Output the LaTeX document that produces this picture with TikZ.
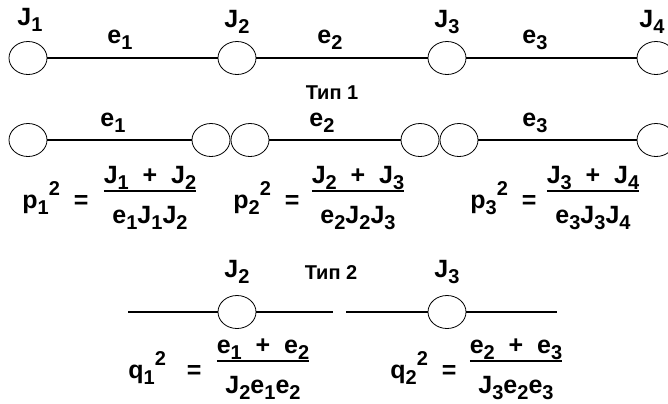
\documentclass[tikz,border=0pt]{standalone}
\usepackage{fontspec}
\setmainfont{Liberation Sans}
\usetikzlibrary{shapes.geometric}
\newcommand\idx[1]{\raisebox{-0.45ex}{\fontsize{10}{10}\selectfont #1}}
\newcommand\pw[1]{\raisebox{1.0ex}{\fontsize{10}{10}\selectfont #1}}
\newcommand\frc[2]{\setlength\arrayrulewidth{0.9pt}%
  \begin{tabular}{@{}c@{}}#1\\[-1pt]\hline\rule{0pt}{2.4ex}#2\end{tabular}}

\begin{document}
\begin{tikzpicture}[x=0.5pt,y=-0.5pt,
  font=\bfseries\fontsize{12.5}{14}\selectfont,
  disk/.style={ellipse,draw,thin,minimum width=19pt,minimum height=16.5pt,inner sep=0pt},
  shaft/.style={line width=1pt},
  lbl/.style={inner sep=0pt},
  lhs/.style={inner sep=0pt,anchor=west},
  ratio/.style={inner sep=0pt}
]
  \useasboundingbox (0,0) rectangle (668,403);

  % Тип 1, whole shaft
  \node[disk] (a1) at (28,58) {};
  \node[disk] (a2) at (237,58) {};
  \node[disk] (a3) at (447,58) {};
  \node[disk] (a4) at (656,58) {};
  \draw[shaft] (a1) -- (a2);
  \draw[shaft] (a2) -- (a3);
  \draw[shaft] (a3) -- (a4);
  \node[lbl] (ja1) at (30,20) {J\idx1};
  \node[lbl] (ja2) at (237,22) {J\idx2};
  \node[lbl] (ja3) at (447,22) {J\idx3};
  \node[lbl] (ja4) at (652,22) {J\idx4};
  \node[lbl] (ea1) at (120,40) {e\idx1};
  \node[lbl] (ea2) at (330,40) {e\idx2};
  \node[lbl] (ea3) at (535,40) {e\idx3};
  \node[lbl,font=\bfseries\fontsize{10}{12}\selectfont] (type1) at (332,93) {Тип 1};

  % Тип 1, split shaft
  \node[disk] (b1) at (28,140) {};
  \node[disk] (b2) at (211,140) {};
  \node[disk] (b3) at (250,140) {};
  \node[disk] (b4) at (420,140) {};
  \node[disk] (b5) at (459,140) {};
  \node[disk] (b6) at (656,140) {};
  \draw[shaft] (b1) -- (b2);
  \draw[shaft] (b3) -- (b4);
  \draw[shaft] (b5) -- (b6);
  \node[lbl] (eb1) at (113,123) {e\idx1};
  \node[lbl] (eb2) at (322,123) {e\idx2};
  \node[lbl] (eb3) at (535,123) {e\idx3};

  \node[lhs] (p1) at (22,198) {p\idx1\pw2 \ =};
  \node[ratio] (f1) at (150,198) {\frc{J\idx1 \ + \ J\idx2}{e\idx1J\idx1J\idx2}};
  \node[lhs] (p2) at (233,198) {p\idx2\pw2 \ =};
  \node[ratio] (f2) at (358,198) {\frc{J\idx2 \ + \ J\idx3}{e\idx2J\idx2J\idx3}};
  \node[lhs] (p3) at (470,198) {p\idx3\pw2 \ =};
  \node[ratio] (f3) at (593,198) {\frc{J\idx3 \ + \ J\idx4}{e\idx3J\idx3J\idx4}};

  % Тип 2
  \coordinate (l1) at (128,312);
  \coordinate (l2) at (333,312);
  \coordinate (r1) at (346,312);
  \coordinate (r2) at (557,312);
  \node[disk] (c1) at (237,312) {};
  \node[disk] (c2) at (447,312) {};
  \draw[shaft] (l1) -- (c1) -- (l2);
  \draw[shaft] (r1) -- (c2) -- (r2);
  \node[lbl] (jc1) at (237,272) {J\idx2};
  \node[lbl] (jc2) at (447,272) {J\idx3};
  \node[lbl,font=\bfseries\fontsize{10}{12}\selectfont] (type2) at (331,273) {Тип 2};

  \node[lhs] (q1) at (128,368) {q\idx1\pw2 \ \ =};
  \node[ratio] (g1) at (263,368) {\frc{e\idx1 \ + \ e\idx2}{J\idx2e\idx1e\idx2}};
  \node[lhs] (q2) at (390,368) {q\idx2\pw2 \ =};
  \node[ratio] (g2) at (516,368) {\frc{e\idx2 \ + \ e\idx3}{J\idx3e\idx2e\idx3}};
\end{tikzpicture}
\end{document}
